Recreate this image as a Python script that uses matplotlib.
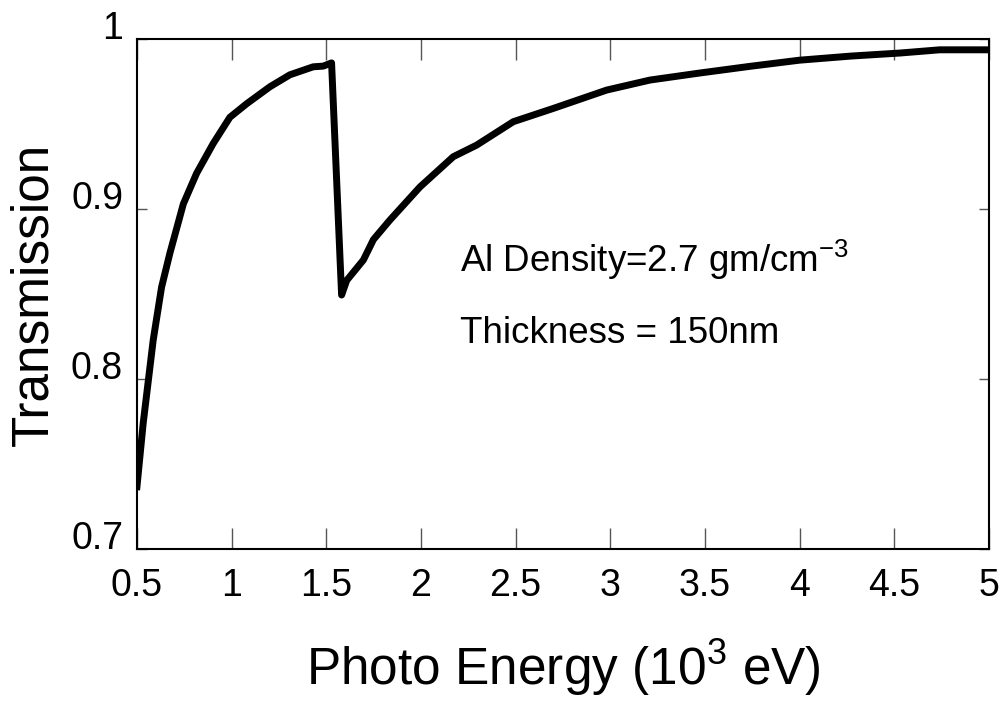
import numpy as np
import matplotlib
matplotlib.use("Agg")
import matplotlib.pyplot as plt

plt.rcParams['font.family'] = ['Liberation Sans', 'DejaVu Sans']
plt.rcParams['mathtext.fontset'] = 'custom'
plt.rcParams['mathtext.rm'] = 'Liberation Sans'
plt.rcParams['mathtext.it'] = 'Liberation Sans:italic'

# photon energy (10^3 eV) and transmission of the Al filter
energy = [0.50, 0.533, 0.586, 0.63, 0.674, 0.745, 0.815, 0.903, 0.991, 1.08,
          1.203, 1.308, 1.431, 1.484, 1.528,
          1.581, 1.608, 1.696, 1.749, 1.836, 1.995, 2.171, 2.294, 2.488, 2.699,
          2.981, 3.21, 3.47, 3.74, 4.0, 4.27, 4.53, 4.74, 5.0]
trans = [0.7366, 0.774, 0.823, 0.854, 0.874, 0.903, 0.921, 0.9386, 0.954, 0.962,
         0.972, 0.979, 0.9837, 0.9841, 0.986,
         0.8494, 0.858, 0.870, 0.882, 0.8935, 0.913, 0.9308, 0.9376, 0.9514, 0.9592,
         0.970, 0.9759, 0.980, 0.984, 0.9876, 0.990, 0.9918, 0.9937, 0.9937]

xticks = [0.5, 1, 1.5, 2, 2.5, 3, 3.5, 4, 4.5, 5]
xticklabels = ['0.5', '1', '1.5', '2', '2.5', '3', '3.5', '4', '4.5', '5']
yticks = [0.7, 0.8, 0.9, 1.0]
yticklabels = ['0.7', '0.8', '0.9', '1']

fig = plt.figure(figsize=(10.07, 7.11), dpi=100)
ax = fig.add_axes([0.136, 0.228, 0.846, 0.717])

ax.plot(energy, trans, 'k-', lw=5, solid_joinstyle='round')

ax.set_xlim(0.5, 5)
ax.set_ylim(0.7, 1.0)
ax.set_xticks(xticks)
ax.set_xticklabels(xticklabels)
ax.set_yticks(yticks)
ax.set_yticklabels(yticklabels)
for lab in ax.get_yticklabels():
    lab.set_va('baseline')

for s in ax.spines.values():
    s.set_linewidth(1.5)
ax.tick_params(axis='x', direction='in', length=15, width=1, color='#555555',
               top=True, labelsize=27, pad=14)
ax.tick_params(axis='y', direction='in', length=7, width=1, color='#555555',
               right=True, labelsize=27, pad=10)

ax.set_xlabel(r'Photo Energy (10$^{\mathregular{3}}$ eV)', fontsize=37, labelpad=24)
ax.set_ylabel('Transmission', fontsize=37, labelpad=9)

ax.text(2.206, 0.870, r'Al Density=2.7 gm/cm$^{\mathregular{-3}}$', fontsize=26.5, va='center')
ax.text(2.206, 0.827, 'Thickness = 150nm', fontsize=26.5, va='center')

fig.savefig('out.png', dpi=100)
